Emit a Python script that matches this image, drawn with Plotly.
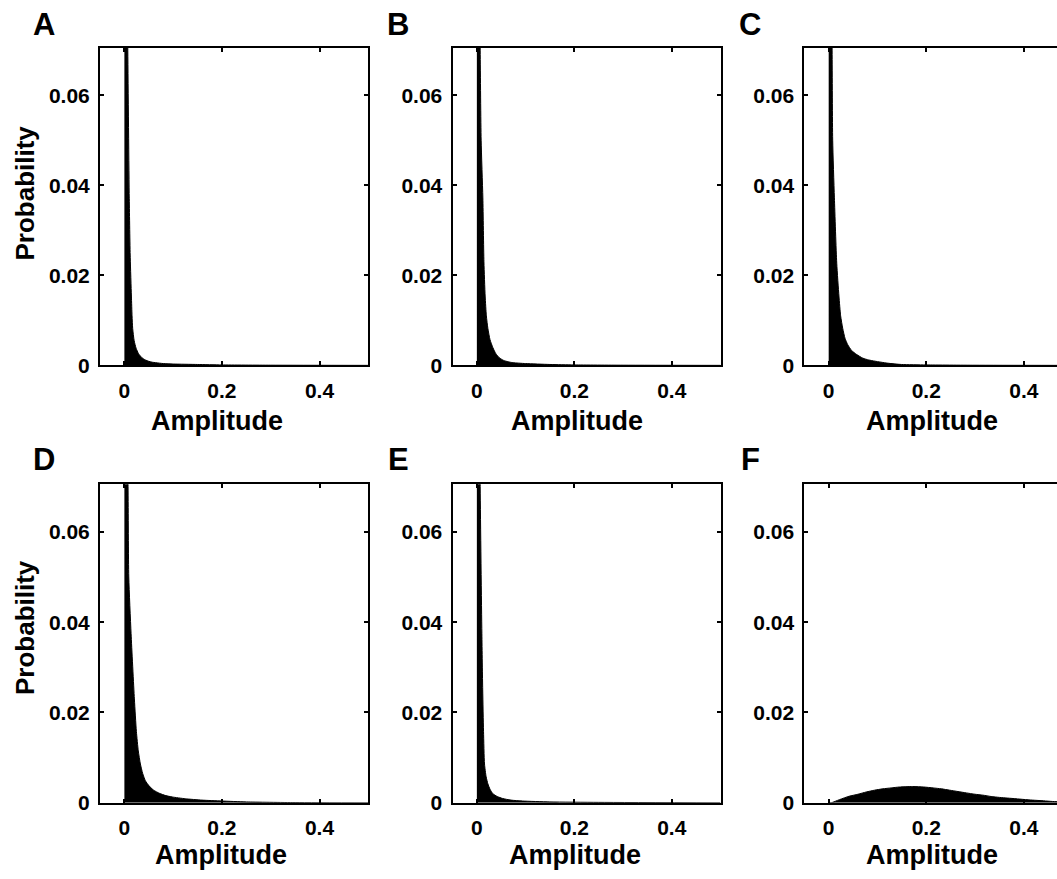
import plotly.graph_objects as go

# ---------------- data ----------------
panel_labels = ["A", "B", "C", "D", "E", "F"]

amp_A = [0, 0.004, 0.007, 0.010, 0.012, 0.0144, 0.0157, 0.017, 0.020, 0.024, 0.029, 0.036, 0.043,
         0.05, 0.057, 0.064, 0.08, 0.1, 0.15, 0.2, 0.3, 0.5]
prob_A = [0.2, 0.11, 0.07, 0.037, 0.024, 0.0154, 0.011, 0.0082, 0.0055, 0.0038, 0.0026, 0.0017, 0.0012,
          0.0009, 0.0007, 0.0006, 0.0004, 0.0003, 0.0002, 0.0001, 0.00004, 0]

amp_B = [0, 0.004, 0.0068, 0.0088, 0.0123, 0.0145, 0.017, 0.0195, 0.0226, 0.027, 0.033, 0.039, 0.046,
         0.055, 0.064, 0.074, 0.1, 0.15, 0.2, 0.3, 0.5]
prob_B = [0.2, 0.11, 0.07, 0.05, 0.0372, 0.023, 0.0154, 0.011, 0.0082, 0.0057, 0.0039, 0.0026, 0.0017,
          0.0011, 0.0008, 0.0006, 0.0004, 0.0002, 0.0001, 0.00004, 0]

amp_C = [0, 0.004, 0.007, 0.0082, 0.0117, 0.0165, 0.021, 0.0245, 0.0288, 0.0335, 0.039, 0.047, 0.0575,
         0.07, 0.082, 0.095, 0.12, 0.149, 0.2, 0.3, 0.469]
prob_C = [0.2, 0.11, 0.07, 0.05, 0.0372, 0.0227, 0.0154, 0.011, 0.0082, 0.006, 0.0046, 0.0033, 0.0024,
          0.0016, 0.0012, 0.00093, 0.0005, 0.0002, 0.0001, 0.00003, 0]

amp_D = [0, 0.004, 0.0075, 0.009, 0.0137, 0.0205, 0.0246, 0.0285, 0.0328, 0.0375, 0.043, 0.051, 0.060,
         0.072, 0.085, 0.098, 0.125, 0.159, 0.2, 0.25, 0.35, 0.5]
prob_D = [0.2, 0.11, 0.07, 0.05, 0.0375, 0.023, 0.0158, 0.0115, 0.0086, 0.0065, 0.0049, 0.0037, 0.0028,
          0.0021, 0.0016, 0.0013, 0.0009, 0.0006, 0.0004, 0.0002, 0.00005, 0]

amp_E = [0, 0.004, 0.0068, 0.0103, 0.012, 0.0137, 0.0157, 0.019, 0.0226, 0.027, 0.033, 0.042, 0.053,
         0.07, 0.094, 0.15, 0.25, 0.5]
prob_E = [0.2, 0.11, 0.07, 0.0375, 0.025, 0.0158, 0.0086, 0.0058, 0.0042, 0.003, 0.002, 0.0014, 0.00096,
          0.0006, 0.0004, 0.0002, 0.0001, 0]

amp_F = [0, 0.005, 0.022, 0.042, 0.06, 0.077, 0.094, 0.111, 0.128, 0.145, 0.172, 0.195, 0.214, 0.231,
         0.248, 0.265, 0.282, 0.3, 0.316, 0.333, 0.35, 0.367, 0.384, 0.4, 0.418, 0.44, 0.459, 0.469]
prob_F = [0, 0, 0.0007, 0.00146, 0.0019, 0.0024, 0.0028, 0.0031, 0.0033, 0.0035, 0.0036, 0.0035, 0.0033, 0.0031,
          0.0028, 0.0025, 0.0022, 0.0019, 0.0017, 0.0014, 0.0012, 0.00105, 0.0009, 0.00075, 0.0006, 0.00045, 0.0003, 0.00025]

x_tick_vals = [0, 0.2, 0.4]
x_tick_text = ["0", "0.2", "0.4"]
y_tick_vals = [0, 0.02, 0.04, 0.06]
y_tick_text = ["0", "0.02", "0.04", "0.06"]

x_title = "Amplitude"
y_title = "Probability"

series = [(amp_A, prob_A), (amp_B, prob_B), (amp_C, prob_C),
          (amp_D, prob_D), (amp_E, prob_E), (amp_F, prob_F)]

# ---------------- layout geometry (pixels) ----------------
W, H = 1057, 879
col_px = [(100, 368.3), (452.5, 720.5), (804.3, 1057)]
col_xmax = [0.5, 0.5, 0.468]
row_px = [(48.5, 370), (490.5, 813)]
font_family = "Liberation Sans, Arial, Helvetica, sans-serif"


def px2x(p):
    return p / W


def px2y(p):
    return 1 - p / H


fig = go.Figure()
layout = dict(
    width=W, height=H, autosize=False,
    margin=dict(l=0, r=0, t=0, b=0),
    paper_bgcolor="white", plot_bgcolor="white",
    showlegend=False,
    font=dict(family=font_family, color="black", weight="bold"),
)

annotations = []
title_x_px = [[217, 577, 932], [221, 575, 932]]
letter_px = [44, 398, 750]
letter_py = [25, 465]
ylab_py = [196, 636]
xlab_py = [426, 866]

for i, (xs, ys) in enumerate(series):
    r, c = divmod(i, 3)
    k = i + 1
    xa = "x" if k == 1 else f"x{k}"
    ya = "y" if k == 1 else f"y{k}"
    fig.add_trace(go.Scatter(
        x=xs, y=ys, mode="lines", fill="tozeroy",
        fillcolor="black", line=dict(color="black", width=1, shape="spline", smoothing=0.6),
        xaxis=xa, yaxis=ya, hoverinfo="skip"))
    x0, x1 = col_px[c]
    y0, y1 = row_px[r]
    xkey = "xaxis" if k == 1 else f"xaxis{k}"
    ykey = "yaxis" if k == 1 else f"yaxis{k}"
    layout[xkey] = dict(
        domain=[px2x(x0), px2x(x1)], range=[-0.05, col_xmax[c]],
        anchor=ya, showgrid=False, zeroline=False,
        showline=True, linecolor="black", linewidth=2,
        mirror="ticks", ticks="inside", ticklen=4, tickwidth=1.5,
        tickcolor="black", tickvals=x_tick_vals, ticktext=x_tick_text,
        tickfont=dict(size=21, family=font_family, color="black", weight="bold"),
        ticklabelstandoff=5,
    )
    layout[ykey] = dict(
        domain=[px2y(y1), px2y(y0)], range=[0, 0.0705],
        anchor=xa, showgrid=False, zeroline=False,
        showline=True, linecolor="black", linewidth=2,
        mirror=("ticks" if c < 2 else False), ticks="inside", ticklen=4, tickwidth=1.5,
        tickcolor="black", tickvals=y_tick_vals, ticktext=y_tick_text,
        tickfont=dict(size=21, family=font_family, color="black", weight="bold"),
        ticklabelstandoff=4,
    )
    # x axis title
    annotations.append(dict(
        text=x_title, x=px2x(title_x_px[r][c]), y=px2y(xlab_py[r]),
        xref="paper", yref="paper", xanchor="center", yanchor="middle",
        showarrow=False, borderpad=0,
        font=dict(size=27, family=font_family, color="black", weight="bold")))
    # panel letter
    annotations.append(dict(
        text=panel_labels[i], x=px2x(letter_px[c]), y=px2y(letter_py[r]),
        xref="paper", yref="paper", xanchor="center", yanchor="middle",
        showarrow=False,
        font=dict(size=31, family=font_family, color="black", weight="bold")))

for r in range(2):
    annotations.append(dict(
        text=y_title, x=px2x(25), y=px2y(ylab_py[r]),
        xref="paper", yref="paper", xanchor="center", yanchor="middle",
        textangle=-90, showarrow=False,
        font=dict(size=26, family=font_family, color="black", weight="bold")))

layout["annotations"] = annotations
fig.update_layout(**layout)

fig.write_html(
    "out.html",
    config={"displayModeBar": False},
    post_script="document.body.style.margin='0';document.body.style.overflow='hidden';",
)
